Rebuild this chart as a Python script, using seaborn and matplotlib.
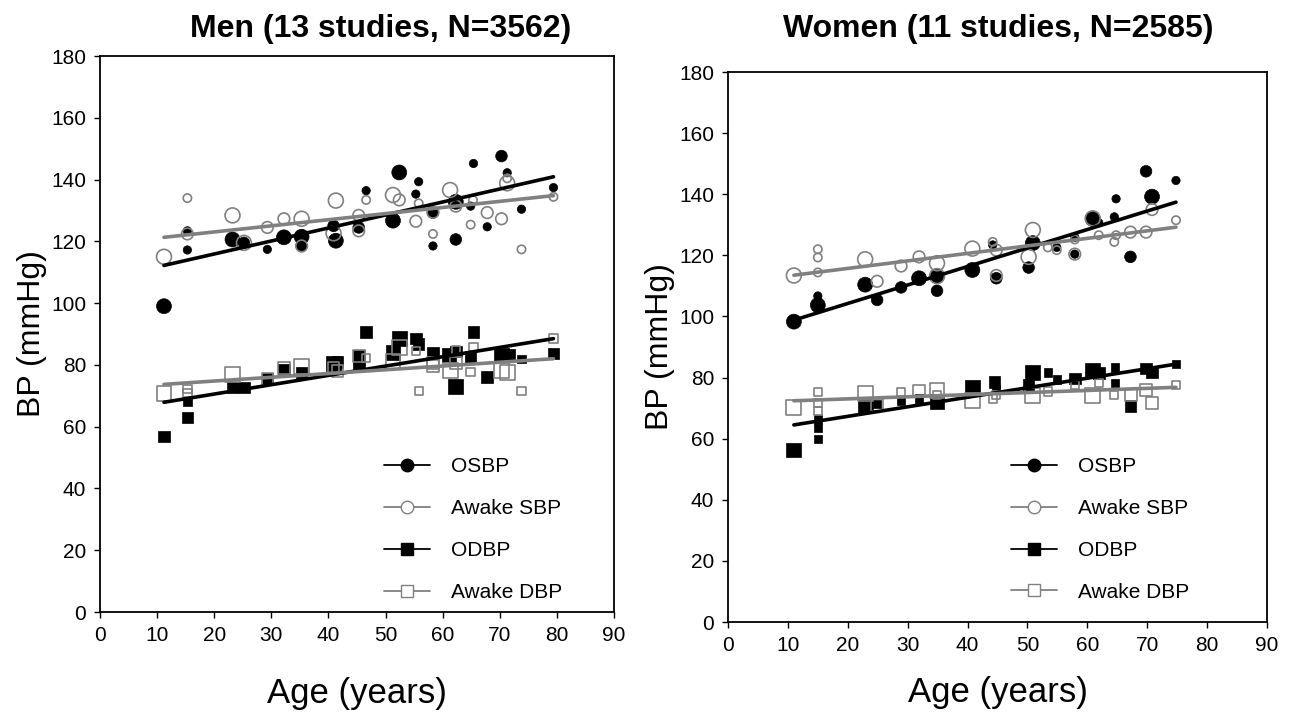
import matplotlib
matplotlib.use("Agg")
import matplotlib.pyplot as plt
from matplotlib.lines import Line2D
import seaborn as sns
import pandas as pd

# ---------------- data ----------------
# Men
men_osbp_age = [11.2, 15.3, 15.3, 23.2, 25.2, 29.3, 32.2, 35.3, 35.3, 40.9, 41.3, 45.3, 46.6, 51.3,
                52.4, 55.8, 55.3, 58.3, 58.3, 62.3, 62.3, 65.4, 64.9, 67.8, 70.3, 71.3, 73.8, 79.4]
men_osbp_bp = [99, 117.2, 123.4, 120.6, 119.5, 117.4, 121.3, 121.5, 118.5, 125, 120.2, 124.5, 136.4, 126.7,
               142.3, 139.3, 135.3, 129.3, 118.5, 120.6, 132.8, 145.2, 131.4, 124.7, 147.6, 142.2, 130.4, 137.4]
men_osbp_n = [3, 1, 1, 3, 2, 1, 3, 3, 2, 2, 3, 2, 1, 3, 3, 1, 1, 2, 1, 2, 3, 1, 1, 1, 2, 1, 1, 1]

men_asbp_age = [11.2, 15.3, 15.3, 23.2, 25.2, 29.3, 32.2, 35.3, 35.3, 40.9, 41.3, 45.3, 45.3, 46.6, 51.3,
                52.4, 55.3, 55.8, 58.3, 58.3, 61.3, 62.3, 64.9, 65.3, 67.8, 70.3, 71.3, 71.3, 73.8, 79.4]
men_asbp_bp = [115, 134, 122.4, 128.4, 119.5, 124.5, 127.3, 127.3, 118.5, 122.6, 133.2, 128.4, 123.4, 133.4, 135,
               133.4, 126.5, 132.3, 122.4, 129.4, 136.6, 131.4, 125.4, 133.4, 129.3, 127.3, 138.8, 140.4, 117.4, 134.4]
men_asbp_n = [3, 1, 2, 3, 3, 2, 2, 3, 2, 3, 3, 2, 2, 1, 3, 2, 2, 1, 1, 2, 3, 2, 1, 1, 2, 2, 3, 1, 1, 1]

men_odbp_age = [11.2, 15.3, 15.3, 23.2, 25.2, 29.3, 32.2, 35.3, 40.9, 41.6, 45.3, 45.3, 46.6, 51.3,
                52.4, 55.3, 55.8, 58.3, 61.1, 62.3, 62.3, 64.9, 65.4, 67.8, 70.3, 71.6, 73.8, 79.4]
men_odbp_bp = [56.8, 63, 68.1, 72.7, 72.7, 75.5, 78.3, 77.3, 80.5, 81, 82.9, 80.5, 90.6, 83.9,
               88.6, 88.6, 86.7, 83.9, 83.2, 72.9, 84.3, 82.6, 90.6, 76, 83.2, 83.2, 81.8, 83.7]
men_odbp_n = [2, 2, 1, 2, 2, 2, 2, 2, 3, 2, 2, 2, 2, 3, 3, 2, 2, 2, 3, 3, 2, 2, 2, 2, 3, 2, 1, 2]

men_adbp_age = [11.2, 15.3, 15.3, 23.2, 29.3, 32.2, 35.3, 40.9, 41.6, 45.3, 46.6, 51.3, 52.4,
                55.3, 55.8, 58.3, 58.3, 61.3, 62.3, 62.3, 64.9, 65.4, 70.3, 71.3, 73.8, 79.4]
men_adbp_bp = [70.8, 72.1, 70.8, 77, 75.5, 78.9, 79.6, 78.9, 78, 82.9, 82.3, 81, 85.7,
               84.6, 71.6, 80.7, 79.6, 78.3, 80.7, 84.8, 77.7, 85.7, 78.1, 77.5, 71.6, 88.5]
men_adbp_n = [3, 1, 1, 3, 2, 2, 3, 2, 2, 2, 1, 3, 3, 1, 1, 2, 2, 3, 2, 1, 1, 1, 3, 3, 1, 1]

men_fit_age = [11.2, 79.4]
men_fit_osbp = [112.2, 140.9]
men_fit_asbp = [121.3, 134.8]
men_fit_odbp = [67.9, 88.5]
men_fit_adbp = [73.7, 82.0]

# Women
wom_osbp_age = [11.0, 15.0, 15.0, 22.9, 24.9, 28.9, 31.9, 34.9, 34.9, 40.8, 44.2, 44.8, 50.2, 50.9,
                54.9, 57.9, 57.9, 60.9, 61.9, 64.5, 64.8, 67.2, 69.8, 70.8, 74.8]
wom_osbp_bp = [98.3, 106.7, 103.7, 110.4, 105.4, 109.5, 112.5, 113.2, 108.4, 115.2, 123.4, 112.5, 116, 124,
               122.6, 120.4, 125.9, 131.9, 130.7, 132.6, 138.5, 119.5, 147.5, 139.2, 144.5]
wom_osbp_n = [3, 1, 3, 3, 2, 2, 3, 3, 2, 3, 1, 2, 2, 3, 1, 1, 1, 3, 1, 1, 1, 2, 2, 3, 1]

wom_asbp_age = [11.0, 15.0, 15.0, 15.0, 22.9, 24.9, 28.9, 31.9, 34.9, 34.9, 40.8, 44.2, 44.8, 44.8,
                50.2, 50.9, 53.4, 54.9, 57.9, 57.9, 60.9, 61.9, 64.5, 64.8, 67.2, 69.8, 70.8, 74.8]
wom_asbp_bp = [113.4, 122, 119.3, 114.4, 118.7, 111.5, 116.5, 119.5, 117.4, 113.2, 122.2, 124.4, 121.7, 113.4,
               119.5, 128.3, 122.6, 121.7, 125.2, 120.4, 132.1, 126.6, 124.4, 126.6, 127.6, 127.6, 135, 131.5]
wom_asbp_n = [3, 1, 1, 1, 3, 2, 2, 2, 3, 3, 3, 1, 2, 2, 3, 3, 1, 1, 1, 2, 3, 1, 1, 1, 2, 2, 2, 1]

wom_odbp_age = [11.0, 15.0, 15.0, 15.0, 22.9, 24.9, 28.9, 31.9, 34.9, 40.8, 44.5, 44.8, 50.2, 50.9,
                53.4, 54.9, 57.9, 60.8, 61.9, 64.6, 64.6, 67.2, 69.8, 70.8, 74.8]
wom_odbp_bp = [56.3, 59.8, 63.4, 66.3, 71, 71.3, 72.4, 73.2, 72.1, 76.8, 78.6, 76.1, 77.6, 81.6,
               81.6, 79.4, 79.7, 82.2, 81.4, 83.3, 78.3, 70.7, 83, 81.6, 84.4]
wom_odbp_n = [3, 1, 1, 1, 3, 1, 1, 1, 3, 3, 2, 1, 2, 3, 1, 1, 2, 3, 2, 1, 1, 2, 2, 2, 1]

wom_adbp_age = [11.0, 15.0, 15.0, 15.0, 22.9, 24.9, 28.9, 31.9, 34.9, 34.9, 40.8, 44.2, 44.8, 50.9,
                53.4, 57.9, 60.8, 61.9, 64.5, 67.3, 69.8, 70.8, 74.8]
wom_adbp_bp = [70.2, 75.3, 71.6, 69.1, 74.8, 71, 75.3, 75.6, 75.7, 74.3, 72.4, 73.2, 74.3, 74,
               75.4, 77.6, 74, 78.3, 74.3, 74.2, 75.9, 71.6, 77.5]
wom_adbp_n = [3, 1, 1, 1, 3, 2, 1, 2, 3, 1, 3, 1, 1, 3, 1, 1, 3, 1, 1, 2, 2, 2, 1]

wom_fit_age = [11.0, 74.8]
wom_fit_osbp = [98.8, 137.4]
wom_fit_asbp = [113.5, 129.2]
wom_fit_odbp = [64.5, 84.4]
wom_fit_adbp = [72.4, 76.8]

titles = ["Men (13 studies, N=3562)", "Women (11 studies, N=2585)"]
series_labels = ["OSBP", "Awake SBP", "ODBP", "Awake DBP"]
x_ticks = list(range(0, 91, 10))
y_ticks = list(range(0, 181, 20))

# ---------------- style ----------------
sns.set_theme(style="ticks")
plt.rcParams["font.family"] = ["Liberation Sans", "DejaVu Sans"]
plt.rcParams["text.color"] = "black"
plt.rcParams["axes.labelcolor"] = "black"
plt.rcParams["xtick.color"] = "black"
plt.rcParams["ytick.color"] = "black"

BLACK = "#000000"
GREY = "#808080"
SIZE_MAP = {1: 36, 2: 70, 3: 115}

fig = plt.figure(figsize=(12.93, 7.15), dpi=100)
W, H = 1293, 715


def axes_at(x0, x1, y0, y1):
    return fig.add_axes([x0 / W, 1 - y1 / H, (x1 - x0) / W, (y1 - y0) / H])


ax_men = axes_at(100, 614, 56, 612)
ax_wom = axes_at(728, 1267, 72, 622)


def draw_panel(ax, series, fits, fit_age):
    for (age, bp, n, marker, filled) in series:
        df = pd.DataFrame({"age": age, "bp": bp, "n": n})
        if filled:
            sns.scatterplot(data=df, x="age", y="bp", size="n", sizes=SIZE_MAP, marker=marker,
                            color=BLACK, edgecolor=BLACK, linewidth=0.5, legend=False, ax=ax, zorder=3)
        else:
            sns.scatterplot(data=df, x="age", y="bp", size="n", sizes=SIZE_MAP, marker=marker,
                            facecolor="none", edgecolor=GREY, linewidth=1.2, legend=False, ax=ax, zorder=4)
    for vals, col in fits:
        fd = pd.DataFrame({"age": fit_age, "bp": vals})
        sns.lineplot(data=fd, x="age", y="bp", color=col, linewidth=2.6, ax=ax, zorder=5)


draw_panel(ax_men,
           [(men_osbp_age, men_osbp_bp, men_osbp_n, "o", True),
            (men_asbp_age, men_asbp_bp, men_asbp_n, "o", False),
            (men_odbp_age, men_odbp_bp, men_odbp_n, "s", True),
            (men_adbp_age, men_adbp_bp, men_adbp_n, "s", False)],
           [(men_fit_osbp, BLACK), (men_fit_asbp, GREY), (men_fit_odbp, BLACK), (men_fit_adbp, GREY)],
           men_fit_age)

draw_panel(ax_wom,
           [(wom_osbp_age, wom_osbp_bp, wom_osbp_n, "o", True),
            (wom_asbp_age, wom_asbp_bp, wom_asbp_n, "o", False),
            (wom_odbp_age, wom_odbp_bp, wom_odbp_n, "s", True),
            (wom_adbp_age, wom_adbp_bp, wom_adbp_n, "s", False)],
           [(wom_fit_osbp, BLACK), (wom_fit_asbp, GREY), (wom_fit_odbp, BLACK), (wom_fit_adbp, GREY)],
           wom_fit_age)

handles = [
    Line2D([], [], color=BLACK, lw=1.3, marker="o", markersize=9, markerfacecolor=BLACK, markeredgecolor=BLACK),
    Line2D([], [], color=GREY, lw=1.3, marker="o", markersize=9, markerfacecolor="white", markeredgecolor=GREY),
    Line2D([], [], color=BLACK, lw=1.3, marker="s", markersize=8.5, markerfacecolor=BLACK, markeredgecolor=BLACK),
    Line2D([], [], color=GREY, lw=1.3, marker="s", markersize=8.5, markerfacecolor="white", markeredgecolor=GREY),
]

panel_cfg = [
    # ax, title, legend x, legend y, xlabel y (axes), ylabel x (axes)
    (ax_men, titles[0], 0.553, 0.278, -0.146, -0.132),
    (ax_wom, titles[1], 0.525, 0.300, -0.129, -0.126),
]
for ax, title, legx, legy, xly, ylx in panel_cfg:
    ax.set_xlim(0, 90)
    ax.set_ylim(0, 180)
    ax.set_xticks(x_ticks)
    ax.set_yticks(y_ticks)
    ax.tick_params(axis="both", direction="out", length=4, width=1, labelsize=15,
                   colors="black", labelcolor="black", pad=6)
    for sp in ax.spines.values():
        sp.set_visible(True)
        sp.set_linewidth(1.3)
        sp.set_color("black")
    ax.set_xlabel("Age (years)", fontsize=25, va="center", color="black")
    ax.xaxis.set_label_coords(0.5, xly)
    ax.set_ylabel("BP (mmHg)", fontsize=23, va="center", color="black")
    ax.yaxis.set_label_coords(ylx, 0.5)
    ax.set_facecolor("white")
    leg = ax.legend(handles, series_labels, loc="upper left", bbox_to_anchor=(legx, legy), frameon=False,
                    fontsize=15, handlelength=2.2, handletextpad=1.0, labelspacing=1.1,
                    borderpad=0, borderaxespad=0, labelcolor="black")

fig.text(381 / W, 1 - 29 / H, titles[0], ha="center", va="center", fontsize=23, fontweight="bold", color="black")
fig.text(998 / W, 1 - 29 / H, titles[1], ha="center", va="center", fontsize=23, fontweight="bold", color="black")

fig.savefig("out.png", dpi=100, facecolor="white")
